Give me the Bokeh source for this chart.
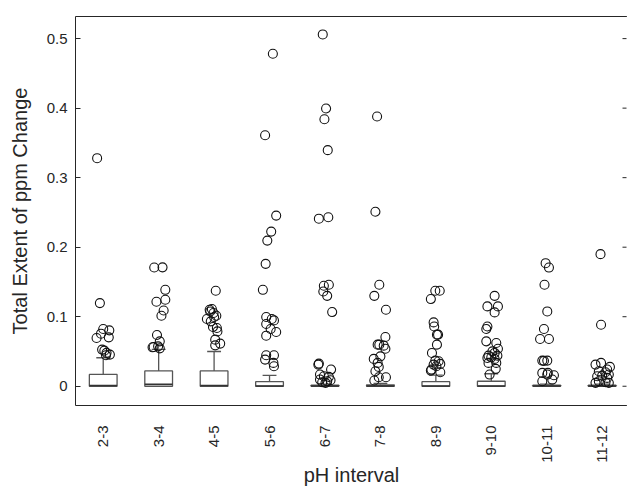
import numpy as np
from bokeh.plotting import figure
from bokeh.models import Range1d, LinearAxis, FixedTicker, ColumnDataSource, Span
from bokeh.embed import file_html
from bokeh.resources import INLINE

# ---------------- data ----------------
categories = ["2-3", "3-4", "4-5", "5-6", "6-7", "7-8", "8-9", "9-10", "10-11", "11-12"]

box_q1 = [0, 0, 0, 0, 0, 0, 0, 0, 0, 0]
box_median = [0.001, 0.003, 0.001, 0.0005, 0.0003, 0.0003, 0.0005, 0.0005, 0.0003, 0.0003]
box_q3 = [0.017, 0.022, 0.022, 0.0065, 0.0015, 0.002, 0.0065, 0.0072, 0.0015, 0.0015]
whisker_low = [0, 0, 0, 0, 0, 0, 0, 0, 0, 0]
whisker_high = [0.041, 0.053, 0.050, 0.0155, 0.003, 0.004, 0.016, 0.018, 0.003, 0.003]

y_ticks = [0, 0.1, 0.2, 0.3, 0.4, 0.5]
y_tick_labels = ["0", "0.1", "0.2", "0.3", "0.4", "0.5"]

# outliers: values and horizontal jitter (category units)
out_2_3 = [0.328, 0.1196, 0.0823, 0.0804, 0.0694, 0.0756, 0.0703, 0.0527, 0.0512, 0.0455, 0.0445, 0.048]
dx_2_3 = [-0.11, -0.06, 0.0, 0.11, -0.12, -0.04, 0.10, -0.02, 0.02, 0.12, 0.05, 0.06]

out_3_4 = [0.1708, 0.171, 0.1387, 0.1215, 0.1244, 0.109, 0.1014, 0.0737, 0.0646, 0.0565, 0.0545, 0.0574, 0.056]
dx_3_4 = [-0.08, 0.07, 0.12, -0.04, 0.12, 0.09, 0.05, -0.03, 0.02, -0.09, 0.02, -0.01, -0.11]

out_4_5 = [0.1373, 0.111, 0.110, 0.1076, 0.1053, 0.1014, 0.0996, 0.0967, 0.0933, 0.0852, 0.0838, 0.0789, 0.067, 0.0613, 0.0588]
dx_4_5 = [0.03, -0.04, -0.08, -0.07, -0.01, 0.04, 0.0, -0.13, -0.06, -0.02, 0.05, 0.06, 0.02, 0.11, 0.02]

out_5_6 = [0.4783, 0.361, 0.2454, 0.2224, 0.2095, 0.176, 0.1387, 0.0996, 0.0967, 0.0947, 0.0895, 0.0823, 0.078, 0.0727, 0.0445, 0.0445, 0.0383, 0.0336, 0.0287]
dx_5_6 = [0.06, -0.08, 0.12, 0.03, -0.04, -0.07, -0.12, -0.06, 0.04, 0.08, -0.06, 0.02, 0.12, -0.06, -0.06, 0.08, -0.08, 0.07, 0.08]

out_6_7 = [0.506, 0.3994, 0.384, 0.3396, 0.243, 0.241, 0.146, 0.1445, 0.1363, 0.130, 0.1067, 0.0326, 0.0311, 0.024, 0.0168, 0.0143, 0.0135, 0.0096, 0.0086, 0.0072, 0.0057, 0.0049]
dx_6_7 = [-0.04, 0.02, -0.01, 0.05, 0.06, -0.11, 0.07, -0.02, -0.03, 0.04, 0.13, -0.11, -0.12, 0.11, -0.09, -0.02, 0.07, -0.09, 0.10, 0.04, -0.05, 0.01]

out_7_8 = [0.388, 0.251, 0.146, 0.130, 0.110, 0.0709, 0.0598, 0.0598, 0.0584, 0.054, 0.043, 0.0393, 0.0336, 0.0278, 0.0215, 0.0129, 0.0129, 0.0082]
dx_7_8 = [-0.06, -0.09, -0.02, -0.11, 0.10, 0.09, -0.05, -0.02, 0.06, 0.09, 0.0, -0.12, -0.05, -0.03, -0.09, 0.10, -0.03, -0.11]

out_8_9 = [0.1373, 0.1373, 0.1254, 0.0918, 0.086, 0.0742, 0.0742, 0.0598, 0.0479, 0.0369, 0.0359, 0.0321, 0.0311, 0.0287, 0.0225, 0.024, 0.0201]
dx_8_9 = [0.07, -0.01, -0.09, -0.04, -0.03, 0.02, 0.04, 0.02, -0.07, -0.01, 0.05, 0.08, -0.04, 0.01, -0.09, -0.08, 0.08]

out_9_10 = [0.130, 0.1148, 0.1148, 0.1062, 0.086, 0.0823, 0.0646, 0.0622, 0.054, 0.0502, 0.0479, 0.044, 0.044, 0.0416, 0.0407, 0.0393, 0.0336, 0.0336, 0.025, 0.0168]
dx_9_10 = [0.06, -0.07, 0.12, 0.06, -0.07, -0.09, -0.09, 0.09, 0.12, 0.02, 0.06, -0.05, 0.11, 0.0, -0.07, 0.06, -0.05, 0.09, 0.08, -0.03]

out_10_11 = [0.177, 0.1707, 0.146, 0.1076, 0.0823, 0.068, 0.068, 0.0369, 0.0369, 0.0365, 0.0192, 0.0192, 0.0168, 0.0158, 0.0096, 0.0072]
dx_10_11 = [-0.02, 0.04, -0.04, 0.01, -0.05, -0.12, 0.04, -0.08, 0.01, -0.05, -0.08, 0.02, 0.01, 0.13, 0.10, -0.08]

out_11_12 = [0.19, 0.0885, 0.0336, 0.0311, 0.0278, 0.024, 0.0215, 0.0201, 0.0143, 0.0153, 0.0168, 0.012, 0.0072, 0.0057, 0.0049, 0.0049]
dx_11_12 = [-0.03, -0.02, -0.02, -0.12, 0.14, 0.09, -0.06, 0.06, -0.09, 0.0, 0.12, 0.09, -0.06, 0.06, -0.12, 0.12]

outlier_values = [out_2_3, out_3_4, out_4_5, out_5_6, out_6_7, out_7_8, out_8_9, out_9_10, out_10_11, out_11_12]
outlier_dx = [dx_2_3, dx_3_4, dx_4_5, dx_5_6, dx_6_7, dx_7_8, dx_8_9, dx_9_10, dx_10_11, dx_11_12]

# ---------------- styling ----------------
FONT = "Liberation Sans"
AX = "#262626"
BOXC = "#555555"
BOX_W = 0.5
CAP_W = 0.25

pos = np.arange(1, len(categories) + 1)

p = figure(width=627, height=488,
           x_range=Range1d(0.5, 10.457), y_range=Range1d(-0.0277, 0.5318),
           output_backend="svg", toolbar_location=None,
           min_border_left=75, min_border_right=0, min_border_top=16, min_border_bottom=82)
p.outline_line_color = None
p.xgrid.visible = False
p.ygrid.visible = False
p.background_fill_color = "white"
p.border_fill_color = "white"

# boxes
box_src = ColumnDataSource(dict(
    x=pos, q1=box_q1, q3=box_q3, med=box_median, lo=whisker_low, hi=whisker_high,
    x0=pos - BOX_W / 2, x1=pos + BOX_W / 2, c0=pos - CAP_W / 2, c1=pos + CAP_W / 2))
p.segment(x0="x", y0="q3", x1="x", y1="hi", source=box_src, line_color=BOXC, line_width=1.3)
p.segment(x0="x", y0="q1", x1="x", y1="lo", source=box_src, line_color=BOXC, line_width=1.3)
p.segment(x0="c0", y0="hi", x1="c1", y1="hi", source=box_src, line_color=BOXC, line_width=1.3)
p.quad(left="x0", right="x1", bottom="q1", top="q3", source=box_src,
       fill_color="white", line_color=BOXC, line_width=1.3)
p.segment(x0="x0", y0="med", x1="x1", y1="med", source=box_src, line_color="#333333", line_width=1.5)

# outliers
ox, oy = [], []
for i, (vals, dxs) in enumerate(zip(outlier_values, outlier_dx)):
    for v, d in zip(vals, dxs):
        ox.append(pos[i] + d)
        oy.append(v)
p.scatter(ox, oy, marker="circle", size=9, fill_color=None, line_color="#111111", line_width=1.1)

# cover any stray frame edge on the right (reference is cut there)
p.add_layout(Span(location=p.x_range.end, dimension="height", line_color="white", line_width=2))

# right-side inward tick marks
p.ray(x=[p.x_range.end] * len(y_ticks), y=y_ticks, length=5, length_units="screen",
      angle=np.pi, line_color=AX, line_width=1)

# left axis
yl = p.yaxis[0]
yl.ticker = FixedTicker(ticks=y_ticks)
yl.major_label_overrides = {t: l for t, l in zip(y_ticks, y_tick_labels)}
yl.minor_tick_line_color = None
yl.major_tick_in = 5
yl.major_tick_out = 0
yl.major_label_standoff = 8
yl.axis_line_color = AX
yl.major_tick_line_color = AX
yl.major_label_text_font = FONT
yl.major_label_text_font_size = "15px"
yl.major_label_text_color = AX
yl.axis_label = "Total Extent of ppm Change"
yl.axis_label_text_font = FONT
yl.axis_label_text_font_size = "20px"
yl.axis_label_text_font_style = "normal"
yl.axis_label_text_color = AX
yl.axis_label_standoff = 13

# bottom axis
xb = p.xaxis[0]
xb.ticker = FixedTicker(ticks=list(pos))
xb.major_label_overrides = {int(t): c for t, c in zip(pos, categories)}
xb.minor_tick_line_color = None
xb.major_tick_line_color = None
xb.major_tick_in = 0
xb.major_tick_out = 0
xb.major_label_orientation = np.pi / 2
xb.major_label_standoff = 20
xb.axis_line_color = AX
xb.major_label_text_font = FONT
xb.major_label_text_font_size = "15px"
xb.major_label_text_color = AX
xb.axis_label = "pH interval"
xb.axis_label_text_font = FONT
xb.axis_label_text_font_size = "20px"
xb.axis_label_text_font_style = "normal"
xb.axis_label_text_color = AX
xb.axis_label_standoff = -2

# top axis (line only, no ticks)
ta = LinearAxis(ticker=FixedTicker(ticks=[]))
ta.axis_line_color = AX
ta.major_tick_line_color = None
ta.minor_tick_line_color = None
ta.major_tick_in = 0
ta.major_tick_out = 0
ta.major_label_standoff = 0
p.add_layout(ta, "above")

open("out.html", "w").write(file_html(p, INLINE))
